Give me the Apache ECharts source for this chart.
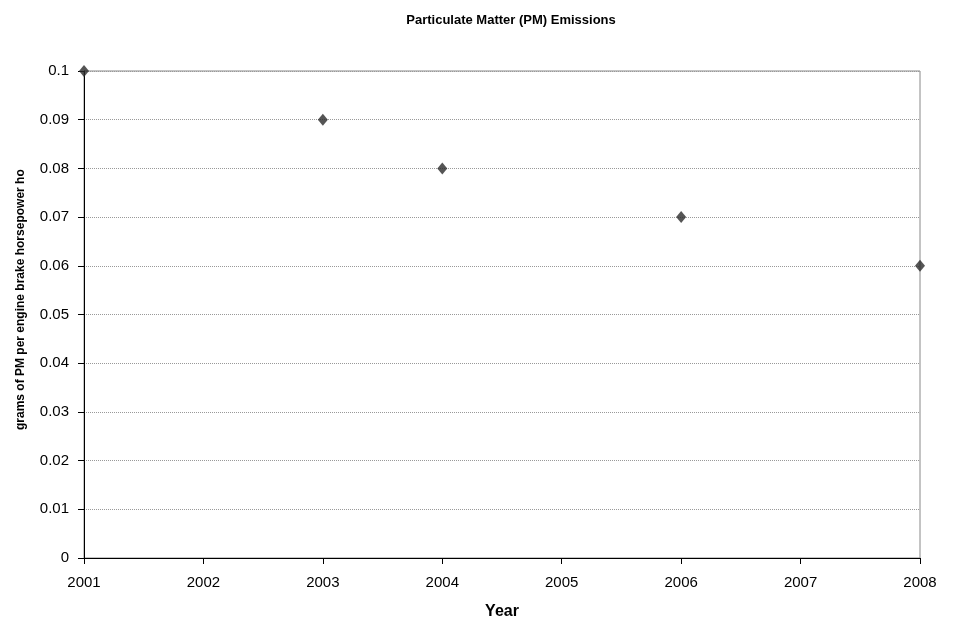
<!DOCTYPE html>
<html><head><meta charset="utf-8">
<script src="https://cdn.jsdelivr.net/npm/echarts@6/dist/echarts.min.js"></script>
<style>html,body{margin:0;padding:0;background:#fff}#c{width:955px;height:617px}</style>
</head><body><div id="c"></div>
<script>
const years = [2001, 2003, 2004, 2006, 2008];
const pmValues = [0.1, 0.09, 0.08, 0.07, 0.06];
const titleText = 'Particulate Matter (PM) Emissions';
const xTitle = 'Year';
const yTitle = 'grams of PM per engine brake horsepower hour';
const chart = echarts.init(document.getElementById('c'));
const font = 'Liberation Sans, Arial, sans-serif';
chart.setOption({
  animation: false,
  backgroundColor: '#fff',
  title: {text: titleText, left: 506, top: 9, textAlign: 'center',
    textStyle: {fontFamily: font, fontSize: 13, fontWeight: 'bold', color: '#000'}},
  graphic: [{type: 'text', x: 21, y: 430, rotation: Math.PI / 2,
    style: {text: yTitle, font: 'bold 12px Liberation Sans, Arial, sans-serif', fill: '#000',
      width: 268, overflow: 'truncate', ellipsis: '', align: 'left', verticalAlign: 'middle'}}],
  grid: {left: 84, right: 35, top: 71, bottom: 59, show: true, borderColor: '#888', borderWidth: 1,
    containLabel: false, outerBoundsMode: 'none'},
  xAxis: {type: 'value', min: 2001, max: 2008, interval: 1,
    name: xTitle, nameLocation: 'middle', nameGap: 46,
    nameTextStyle: {fontFamily: font, fontSize: 16, fontWeight: 'bold', color: '#000'},
    axisLine: {show: true, onZero: false, lineStyle: {color: '#000', width: 1}},
    axisTick: {show: true, length: 6, lineStyle: {color: '#000'}},
    axisLabel: {fontFamily: font, fontSize: 15, color: '#000', margin: 17, formatter: v => String(v)},
    splitLine: {show: false}},
  yAxis: {type: 'value', min: 0, max: 0.1, interval: 0.01,
    axisLine: {show: true, onZero: false, lineStyle: {color: '#000', width: 1}},
    axisTick: {show: true, length: 6, lineStyle: {color: '#000'}},
    axisLabel: {fontFamily: font, fontSize: 15, color: '#000', margin: 15,
      formatter: v => String(+v.toFixed(2))},
    splitLine: {show: true, lineStyle: {color: '#999', width: 1, type: [1, 1]}}},
  series: [{type: 'scatter', data: years.map((y, i) => [y, pmValues[i]]),
    symbol: 'diamond', symbolSize: [10, 12], itemStyle: {color: '#2b2b2b'}}]
});
</script></body></html>
